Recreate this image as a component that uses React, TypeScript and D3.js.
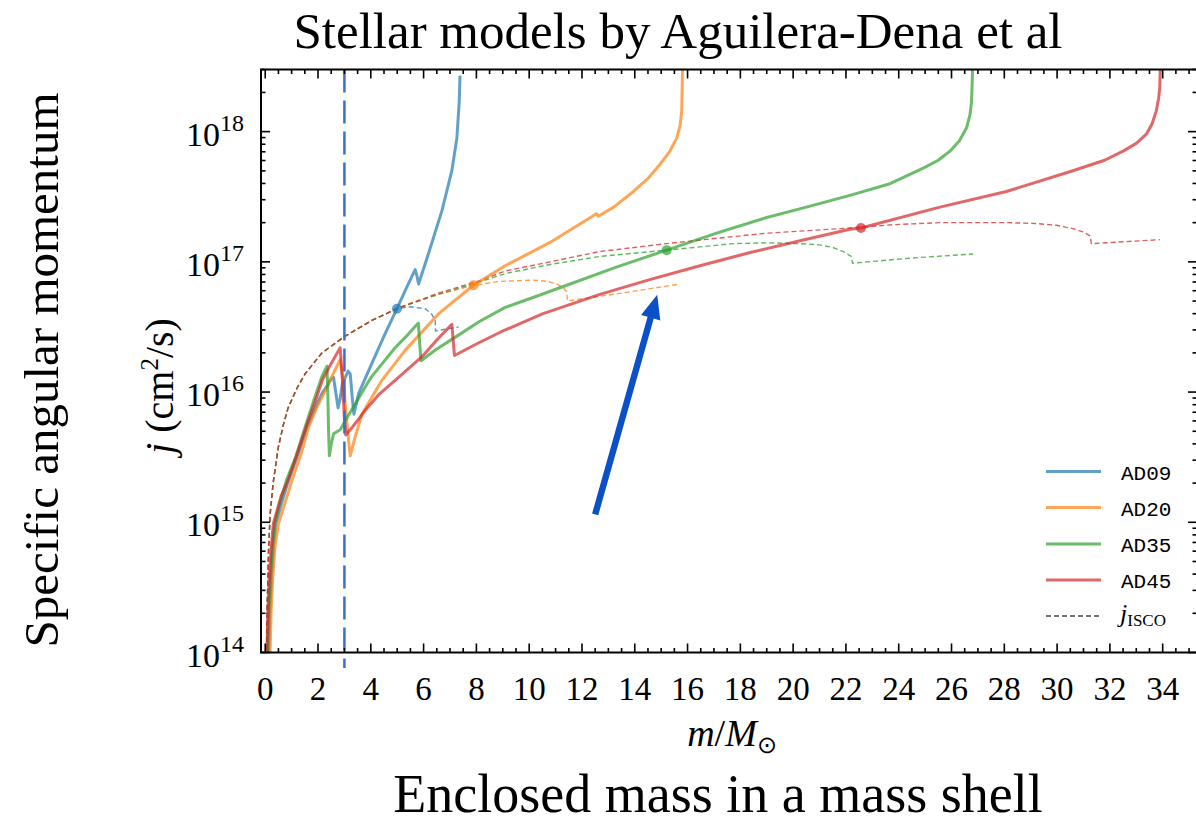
import React from 'react';
import * as d3 from 'd3';

// ---- Data: enclosed mass m/Msun and specific angular momentum j (cm^2/s) ----
const massAD09 = [0.12, 0.17, 0.23, 0.31, 0.4, 0.62, 0.88, 1.2, 1.58, 1.9, 2.15, 2.35, 2.5, 2.59, 2.67, 2.76, 2.84, 2.92, 3.05, 3.14, 3.22, 3.3, 3.36, 3.54, 4.04, 4.5, 4.99, 5.35, 5.68, 5.75, 5.81, 6.18, 6.69, 7.07, 7.26, 7.35, 7.38];
const jAD09 = [7.9e13, 2.0e14, 3.6e14, 6.5e14, 9.8e14, 1.41e15, 2.09e15, 3.16e15, 5.37e15, 7.59e15, 9.77e15, 1.12e16, 1.26e16, 1.29e16, 1.0e16, 7.59e15, 8.91e15, 1.15e16, 1.32e16, 1.45e16, 1.38e16, 8.91e15, 6.76e15, 9.77e15, 1.66e16, 2.69e16, 4.37e16, 6.31e16, 8.71e16, 7.76e16, 6.76e16, 1.15e17, 2.45e17, 5.01e17, 8.91e17, 1.7e18, 2.69e18];

const massAD20 = [0.17, 0.22, 0.28, 0.37, 0.5, 0.75, 1.01, 1.35, 1.64, 1.95, 2.27, 2.55, 2.84, 2.95, 3.1, 3.22, 3.4, 3.66, 4.42, 5.3, 6.56, 7.89, 9.09, 10.79, 12.55, 12.62, 13.2, 13.95, 14.5, 14.96, 15.3, 15.59, 15.72, 15.78, 15.81];
const jAD20 = [7.9e13, 2.0e14, 3.6e14, 6.5e14, 9.8e14, 1.41e15, 2.09e15, 3.31e15, 5.37e15, 7.59e15, 1.02e16, 1.35e16, 1.78e16, 1.26e16, 5.62e15, 3.24e15, 4.47e15, 6.76e15, 1.23e16, 2.09e16, 3.98e16, 6.61e16, 9.33e16, 1.41e17, 2.34e17, 2.24e17, 2.63e17, 3.47e17, 4.37e17, 5.62e17, 6.92e17, 8.91e17, 1.12e18, 1.45e18, 3.16e18];

const massAD35 = [0.08, 0.13, 0.19, 0.27, 0.36, 0.55, 0.8, 1.15, 1.51, 1.75, 1.96, 2.15, 2.34, 2.37, 2.4, 2.43, 2.5, 2.59, 2.84, 3.03, 3.47, 3.85, 4.04, 4.92, 5.4, 5.8, 5.85, 5.9, 6.5, 7.19, 8.1, 9.09, 10.2, 11.42, 13.3, 15.21, 17.1, 19.0, 20.5, 22.15, 23.67, 24.93, 25.5, 25.94, 26.3, 26.57, 26.7, 26.76, 26.8];
const jAD35 = [7.9e13, 2.0e14, 3.6e14, 6.5e14, 9.8e14, 1.41e15, 2.09e15, 3.16e15, 5.37e15, 7.59e15, 1.02e16, 1.32e16, 1.58e16, 1.0e16, 5.01e15, 3.24e15, 3.98e15, 4.79e15, 5.13e15, 6.03e15, 8.51e15, 1.15e16, 1.32e16, 2.19e16, 2.75e16, 3.39e16, 2.4e16, 1.74e16, 2.14e16, 2.63e16, 3.47e16, 4.47e16, 5.37e16, 6.61e16, 9.12e16, 1.23e17, 1.66e17, 2.19e17, 2.63e17, 3.24e17, 3.98e17, 5.25e17, 6.03e17, 7.08e17, 8.51e17, 1.07e18, 1.35e18, 1.7e18, 3.16e18];

const massAD45 = [0.05, 0.1, 0.15, 0.23, 0.31, 0.6, 0.88, 1.25, 1.63, 1.9, 2.16, 2.5, 2.84, 2.92, 3.0, 3.05, 3.3, 3.79, 4.3, 4.92, 5.93, 6.5, 7.07, 7.12, 7.17, 8.0, 8.9, 10.5, 12.68, 14.5, 16.47, 18.3, 20.26, 22.15, 22.57, 25.56, 28.08, 30.6, 31.8, 32.5, 33.0, 33.38, 33.6, 33.76, 33.85, 33.89, 33.91];
const jAD45 = [7.9e13, 2.0e14, 3.6e14, 6.5e14, 9.8e14, 1.58e15, 2.14e15, 3.55e15, 6.03e15, 8.51e15, 1.23e16, 1.66e16, 2.19e16, 1.26e16, 6.31e15, 4.68e15, 5.37e15, 7.24e15, 9.55e15, 1.23e16, 1.86e16, 2.51e16, 3.31e16, 2.51e16, 1.91e16, 2.34e16, 2.88e16, 3.98e16, 5.62e16, 7.24e16, 9.33e16, 1.17e17, 1.45e17, 1.78e17, 1.82e17, 2.63e17, 3.47e17, 5.01e17, 6.03e17, 7.08e17, 8.13e17, 9.55e17, 1.15e18, 1.45e18, 1.82e18, 2.19e18, 3.16e18];

// j_ISCO: inner part shared by all four models, then one tail per model
const massIscoInner = [0.05, 0.07, 0.1, 0.13, 0.19, 0.3, 0.49, 0.7, 0.87, 1.2, 1.51, 2.15, 3.03, 4.04, 4.99];
const jIscoInner = [7.9e13, 2.0e14, 3.63e14, 6.46e14, 1.175e15, 2.0e15, 3.72e15, 5.75e15, 7.59e15, 1.07e16, 1.38e16, 2.0e16, 2.69e16, 3.55e16, 4.37e16];

const massIscoAD09 = [5.5, 6.06, 6.3, 6.44, 6.45, 7.32];
const jIscoAD09 = [4.52e16, 4.37e16, 3.98e16, 3.55e16, 2.95e16, 3.16e16];
const massIscoAD20 = [5.6, 6.55, 7.89, 8.9, 10.15, 10.7, 11.04, 11.3, 11.42, 11.45, 13.5, 15.71];
const jIscoAD20 = [4.9e16, 5.62e16, 6.61e16, 7.08e16, 7.24e16, 7.08e16, 6.76e16, 6.31e16, 5.89e16, 5.01e16, 5.75e16, 6.76e16];
const massIscoAD35 = [6.55, 8.2, 9.09, 10.8, 12.68, 15.21, 17.73, 19.0, 20.26, 21.0, 21.5, 21.9, 22.2, 22.25, 24.5, 26.82];
const jIscoAD35 = [5.62e16, 7.08e16, 8.13e16, 9.55e16, 1.1e17, 1.23e17, 1.38e17, 1.4e17, 1.38e17, 1.35e17, 1.29e17, 1.2e17, 1.1e17, 9.77e16, 1.07e17, 1.15e17];
const massIscoAD45 = [6.55, 8.2, 9.09, 10.8, 12.68, 15.2, 17.0, 19.0, 22.15, 23.8, 25.56, 28.08, 29.2, 29.97, 30.6, 30.98, 31.25, 31.3, 33.89];
const jIscoAD45 = [5.75e16, 7.24e16, 8.51e16, 1.0e17, 1.2e17, 1.38e17, 1.51e17, 1.66e17, 1.82e17, 1.93e17, 2.0e17, 2.0e17, 1.97e17, 1.91e17, 1.8e17, 1.7e17, 1.58e17, 1.38e17, 1.48e17];

// Points where j crosses j_ISCO
const crossMass = [4.99, 7.89, 15.21, 22.57];
const crossJ = [4.37e16, 6.61e16, 1.23e17, 1.82e17];

const modelNames = ['AD09', 'AD20', 'AD35', 'AD45'];
const modelColors = ['#1f77b4', '#ff7f0e', '#2ca02c', '#d62728'];

const xTickValues = [0, 2, 4, 6, 8, 10, 12, 14, 16, 18, 20, 22, 24, 26, 28, 30, 32, 34];
const yTickExponents = [14, 15, 16, 17, 18];

// Reference mass line and annotation arrow (data coordinates)
const refMass = 3;
const arrowFrom = [12.5, 1.15e15];
const arrowTo = [14.85, 5.6e16];

const W = 1196;
const H = 825;
const L = 261, R = 1197, T = 69.5, B = 652.5;

const SERIF = '"Liberation Serif", "Times New Roman", serif';
const MONO = '"Liberation Mono", "DejaVu Sans Mono", monospace';

export default function App() {
  const x = d3.scaleLinear().domain([-0.16, 35.3]).range([L, R]);
  const y = d3.scaleLog().domain([1e14, 3e18]).range([B, T]);

  const line = d3
    .line<[number, number]>()
    .x((d) => x(d[0]))
    .y((d) => y(d[1]))
    .curve(d3.curveLinear);

  const zip = (ms: number[], js: number[]) => ms.map((m, i) => [m, js[i]] as [number, number]);

  const solids = [zip(massAD09, jAD09), zip(massAD20, jAD20), zip(massAD35, jAD35), zip(massAD45, jAD45)];
  const inner = zip(massIscoInner, jIscoInner);
  const iscoTails = [
    zip(massIscoAD09, jIscoAD09),
    zip(massIscoAD20, jIscoAD20),
    zip(massIscoAD35, jIscoAD35),
    zip(massIscoAD45, jIscoAD45),
  ];
  const iscos = iscoTails.map((t) => inner.concat(t));

  // ticks
  const yMajor = yTickExponents.map((e) => Math.pow(10, e));
  const yMinor: number[] = [];
  for (let e = 14; e <= 18; e++) {
    for (let k = 2; k <= 9; k++) {
      const v = k * Math.pow(10, e);
      if (v <= 3e18) yMinor.push(v);
    }
  }
  const xMinor: number[] = [];
  for (let v = 0.5; v <= 35.2; v += 0.5) {
    if (Math.abs(v / 2 - Math.round(v / 2)) > 1e-6) xMinor.push(v);
  }

  // arrow geometry
  const ax0 = x(arrowFrom[0]), ay0 = y(arrowFrom[1]);
  const ax1 = x(arrowTo[0]), ay1 = y(arrowTo[1]);
  const dx = ax1 - ax0, dy = ay1 - ay0;
  const len = Math.hypot(dx, dy);
  const ux = dx / len, uy = dy / len;
  const px = -uy, py = ux;
  const headLen = 24, headHalf = 10, shaftHalf = 3.2;
  const hb = [ax1 - ux * headLen, ay1 - uy * headLen];
  const arrowPts = [
    [ax0 + px * shaftHalf, ay0 + py * shaftHalf],
    [hb[0] + px * shaftHalf, hb[1] + py * shaftHalf],
    [hb[0] + px * headHalf, hb[1] + py * headHalf],
    [ax1, ay1],
    [hb[0] - px * headHalf, hb[1] - py * headHalf],
    [hb[0] - px * shaftHalf, hb[1] - py * shaftHalf],
    [ax0 - px * shaftHalf, ay0 - py * shaftHalf],
  ]
    .map((p) => p.join(','))
    .join(' ');

  const legendX0 = 1046, legendX1 = 1101;
  const legendY = [471.5, 507.5, 544, 580];

  return (
    <div style={{ position: 'absolute', left: 0, top: 0 }}>
      <svg width={W} height={H} viewBox={`0 0 ${W} ${H}`} style={{ display: 'block', background: '#fff' }}>
        <defs>
          <clipPath id="plotClip">
            <rect x={L} y={T} width={R - L} height={B - T} />
          </clipPath>
        </defs>

        {/* titles */}
        <text x={678} y={48} textAnchor="middle" fontFamily={SERIF} fontSize={51} fill="#000">
          Stellar models by Aguilera-Dena et al
        </text>
        <text x={718} y={812} textAnchor="middle" fontFamily={SERIF} fontSize={54} fill="#000">
          Enclosed mass in a mass shell
        </text>
        <text
          transform={`translate(58,370) rotate(-90)`}
          textAnchor="middle"
          fontFamily={SERIF}
          fontSize={49}
          fill="#000"
        >
          Specific angular momentum
        </text>

        {/* axis labels */}
        <text x={732} y={746} textAnchor="middle" fontFamily={SERIF} fontSize={38} fill="#000">
          <tspan fontStyle="italic">m</tspan>/<tspan fontStyle="italic">M</tspan>
          <tspan fontSize={24} dy={7}>⊙</tspan>
        </text>
        <text
          transform={`translate(173,386) rotate(-90)`}
          textAnchor="middle"
          fontFamily={SERIF}
          fontSize={40}
          fill="#000"
        >
          <tspan fontStyle="italic">j</tspan>
          <tspan dx={10}>(cm</tspan>
          <tspan fontSize={25} dy={-15}>2</tspan>
          <tspan dy={15}>/s)</tspan>
        </text>

        {/* data */}
        <g clipPath="url(#plotClip)">
          {iscos.map((d, i) => (
            <path
              key={'isco' + i}
              d={line(d) || ''}
              fill="none"
              stroke={modelColors[i]}
              strokeOpacity={0.75}
              strokeWidth={1.4}
              strokeDasharray="5,3"
            />
          ))}
          {solids.map((d, i) => (
            <path
              key={'solid' + i}
              d={line(d) || ''}
              fill="none"
              stroke={modelColors[i]}
              strokeOpacity={0.7}
              strokeWidth={3}
              strokeLinejoin="round"
            />
          ))}
          {crossMass.map((m, i) => (
            <circle key={'dot' + i} cx={x(m)} cy={y(crossJ[i])} r={5} fill={modelColors[i]} fillOpacity={0.7} />
          ))}
        </g>

        {/* reference mass */}
        <line
          x1={x(refMass)}
          x2={x(refMass)}
          y1={T}
          y2={668}
          stroke="#3a6fd0"
          strokeWidth={2.5}
          strokeDasharray="23,8"
        />

        {/* annotation arrow */}
        <polygon points={arrowPts} fill="#0a50c8" />

        {/* ticks */}
        <g stroke="#000" strokeWidth={1.6}>
          {xTickValues.map((v) => (
            <g key={'xt' + v}>
              <line x1={x(v)} x2={x(v)} y1={B} y2={B - 9} />
              <line x1={x(v)} x2={x(v)} y1={T} y2={T + 9} />
            </g>
          ))}
          {xMinor.map((v) => (
            <g key={'xm' + v}>
              <line x1={x(v)} x2={x(v)} y1={B} y2={B - 4.5} />
              <line x1={x(v)} x2={x(v)} y1={T} y2={T + 4.5} />
            </g>
          ))}
          {yMajor.map((v) => (
            <g key={'yt' + v}>
              <line x1={L} x2={L + 9} y1={y(v)} y2={y(v)} />
              <line x1={R} x2={R - 9} y1={y(v)} y2={y(v)} />
            </g>
          ))}
          {yMinor.map((v) => (
            <g key={'ym' + v}>
              <line x1={L} x2={L + 4.5} y1={y(v)} y2={y(v)} />
              <line x1={R} x2={R - 4.5} y1={y(v)} y2={y(v)} />
            </g>
          ))}
        </g>

        {/* frame */}
        <rect x={L} y={T} width={R - L} height={B - T} fill="none" stroke="#000" strokeWidth={2} />

        {/* tick labels */}
        {xTickValues.map((v) => (
          <text key={'xl' + v} x={x(v)} y={700} textAnchor="middle" fontFamily={SERIF} fontSize={33} fill="#000">
            {v}
          </text>
        ))}
        {yTickExponents.map((e) => (
          <text
            key={'yl' + e}
            x={244}
            y={y(Math.pow(10, e)) + 14}
            textAnchor="end"
            fontFamily={SERIF}
            fontSize={34}
            fill="#000"
          >
            10<tspan fontSize={24} dy={-15}>{e}</tspan>
          </text>
        ))}

        {/* legend */}
        {modelNames.map((name, i) => (
          <g key={'lg' + name}>
            <line
              x1={legendX0}
              x2={legendX1}
              y1={legendY[i]}
              y2={legendY[i]}
              stroke={modelColors[i]}
              strokeOpacity={0.7}
              strokeWidth={3}
            />
            <text x={1121} y={legendY[i] + 8} fontFamily={MONO} fontSize={21} fill="#000">
              {name}
            </text>
          </g>
        ))}
        <line x1={legendX0} x2={legendX1} y1={616} y2={616} stroke="#444" strokeWidth={1.3} strokeDasharray="5,3" />
        <text x={1120} y={622} fontFamily={SERIF} fontSize={26} fill="#000">
          <tspan fontStyle="italic">j</tspan>
          <tspan fontSize={17} dy={4}>ISCO</tspan>
        </text>
      </svg>
    </div>
  );
}
